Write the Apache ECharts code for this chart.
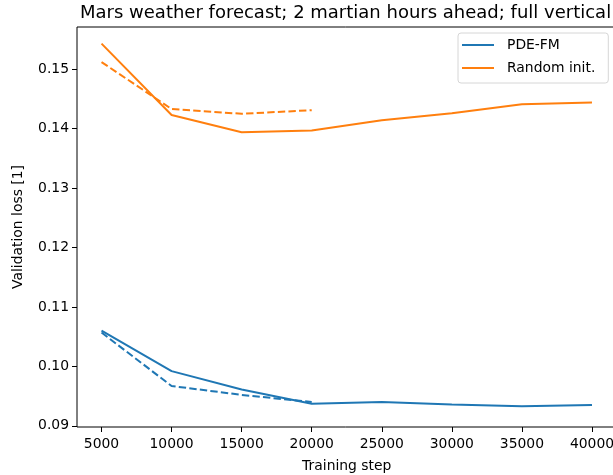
<!DOCTYPE html>
<html>
<head>
<meta charset="utf-8">
<script src="https://cdn.jsdelivr.net/npm/echarts@6/dist/echarts.min.js"></script>
<style>
  html, body { margin: 0; padding: 0; background: #fff; overflow: hidden; }
  #chart { width: 613px; height: 475px; }
</style>
</head>
<body>
<div id="chart"></div>
<script>
// Training steps at which the validation loss was evaluated
const steps = [5000, 10000, 15000, 20000, 25000, 30000, 35000, 40000];
const xTicks = [5000, 10000, 15000, 20000, 25000, 30000, 35000, 40000];
const yTicks = [0.09, 0.10, 0.11, 0.12, 0.13, 0.14, 0.15];

// Validation loss, full runs (solid)
const pdeFmLoss = [0.1060, 0.0992, 0.0961, 0.0937, 0.0940, 0.0936, 0.0933, 0.0935];
const randomInitLoss = [0.1543, 0.1423, 0.1394, 0.1397, 0.1414, 0.1426, 0.1441, 0.1444];

// Validation loss, shorter runs (dashed)
const pdeFmLossShort = [0.1057, 0.0967, 0.0952, 0.0940];
const randomInitLossShort = [0.1512, 0.1433, 0.1425, 0.1431];

const BLUE = '#1f77b4';
const ORANGE = '#ff7f0e';
const FONT = 'DejaVu Sans';

function pairs(xs, ys) {
  return ys.map((v, i) => [xs[i], v]);
}

function lineSeries(name, values, color, dashed) {
  return {
    name: name,
    type: 'line',
    data: pairs(steps, values),
    color: color,
    symbol: 'none',
    showSymbol: false,
    silent: true,
    lineStyle: { color: color, width: 2, type: dashed ? [7.4, 3.2] : 'solid', cap: 'butt' },
    emphasis: { disabled: true }
  };
}

const chart = echarts.init(document.getElementById('chart'), null, { renderer: 'canvas' });

chart.setOption({
  animation: false,
  backgroundColor: '#fff',
  title: {
    text: 'Mars weather forecast; 2 martian hours ahead; full vertical',
    left: 75,
    top: -1,
    textStyle: { fontFamily: FONT, fontSize: 18, fontWeight: 'normal', color: '#000' }
  },
  grid: {
    left: 77, top: 27, width: 539.5, bottom: 48,
    outerBoundsMode: 'none',
    containLabel: false,
    show: true, borderColor: '#000', borderWidth: 1, backgroundColor: 'transparent'
  },
  legend: {
    data: ['PDE-FM', 'Random init.'],
    orient: 'vertical',
    left: 458,
    top: 33,
    icon: 'rect',
    itemWidth: 32,
    itemHeight: 2,
    itemGap: 7,
    padding: [4, 13, 7, 4],
    backgroundColor: '#fff',
    borderColor: '#d6d6d6',
    borderWidth: 1,
    borderRadius: 3,
    selectedMode: false,
    textStyle: { fontFamily: FONT, fontSize: 13.9, color: '#000', lineHeight: 16, padding: [0, 0, 0, 8] }
  },
  xAxis: {
    type: 'value',
    min: 3250,
    max: 41750,
    name: 'Training step',
    nameLocation: 'middle',
    nameGap: 32,
    nameTextStyle: { fontFamily: FONT, fontSize: 13.9, color: '#000' },
    axisLine: { show: false },
    splitLine: { show: false },
    axisTick: { show: true, customValues: xTicks, length: 5, lineStyle: { color: '#000', width: 1 } },
    axisLabel: { customValues: xTicks, fontFamily: FONT, fontSize: 13.9, color: '#000', margin: 10,
                 formatter: v => String(v) }
  },
  yAxis: {
    type: 'value',
    min: 0.0898,
    max: 0.1571,
    name: 'Validation loss [1]',
    nameLocation: 'middle',
    nameGap: 52,
    nameRotate: 90,
    nameTextStyle: { fontFamily: FONT, fontSize: 13.9, color: '#000' },
    axisLine: { show: false },
    splitLine: { show: false },
    axisTick: { show: true, customValues: yTicks, length: 5, lineStyle: { color: '#000', width: 1 } },
    axisLabel: { customValues: yTicks, fontFamily: FONT, fontSize: 13.9, color: '#000', margin: 8,
                 formatter: v => v.toFixed(2) }
  },
  series: [
    lineSeries('PDE-FM', pdeFmLoss, BLUE, false),
    lineSeries('Random init.', randomInitLoss, ORANGE, false),
    lineSeries('PDE-FM', pdeFmLossShort, BLUE, true),
    lineSeries('Random init.', randomInitLossShort, ORANGE, true)
  ]
});
</script>
</body>
</html>
